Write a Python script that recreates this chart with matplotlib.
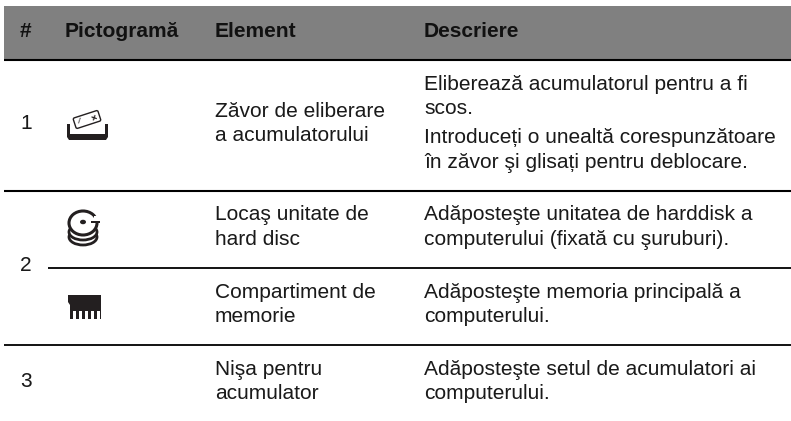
import matplotlib
matplotlib.use("Agg")
import matplotlib.pyplot as plt
from matplotlib.patches import Rectangle, Polygon, Circle, Ellipse, FancyBboxPatch
from matplotlib.transforms import Affine2D

W, H = 791, 421
headers = ["#", "Pictogramă", "Element", "Descriere"]
header_x = [20, 65, 215, 424]
numbers = ["1", "2", "3"]
number_y = [129, 271, 387]
elements = ["Zăvor de eliberare", "a acumulatorului", "Locaş unitate de", "hard disc",
            "Compartiment de", "memorie", "Nişa pentru", "acumulator"]
element_y = [117, 141, 220, 245, 298, 322, 375, 399]
descriptions = ["Eliberează acumulatorul pentru a fi", "scos.",
                "Introduceți o unealtă corespunzătoare", "în zăvor şi glisați pentru deblocare.",
                "Adăposteşte unitatea de harddisk a", "computerului (fixată cu şuruburi).",
                "Adăposteşte memoria principală a", "computerului.",
                "Adăposteşte setul de acumulatori ai", "computerului."]
desc_y = [90, 114, 143, 168, 220, 245, 298, 322, 375, 399]

plt.rcParams["font.family"] = ["Liberation Sans", "DejaVu Sans"]
plt.rcParams["text.hinting"] = "no_autohint"
plt.rcParams["text.hinting_factor"] = 8
fig = plt.figure(figsize=(W / 100, H / 100), dpi=100)
ax = fig.add_axes([0, 0, 1, 1])
ax.set_xlim(0, W)
ax.set_ylim(H, 0)
ax.axis("off")

INK = "#231f20"
TXT = "#1a1a1a"
FS = 15.1
ax.add_patch(Rectangle((4, 6), W - 4, 53, fc="#808080", ec="none"))
for x0, y, lw in [(4, 60, 1.5), (4, 191, 1.5), (48, 268, 1.3), (4, 345, 1.3)]:
    ax.plot([x0, W], [y, y], color="black", lw=lw, solid_capstyle="butt")

for s, x in zip(headers, header_x):
    ax.text(x, 37, s, fontsize=FS, fontweight="bold", color="#111111", va="baseline")
for s, y in zip(numbers, number_y):
    ax.text(20, y, s, fontsize=FS, color=TXT, va="baseline")
for s, y in zip(elements, element_y):
    ax.text(215, y, s, fontsize=FS, color=TXT, va="baseline")
for s, y in zip(descriptions, desc_y):
    ax.text(424, y, s, fontsize=FS, color=TXT, va="baseline")

# battery-release icon
ax.add_patch(Polygon([(67, 124), (70, 124), (70, 134), (105, 134), (105, 124), (108, 124),
                      (108, 137), (106, 140), (69, 140), (67, 137)],
                     closed=True, fc=INK, ec="none"))
bat = FancyBboxPatch((74, 114), 26, 11, boxstyle="round,pad=0,rounding_size=1.5",
                     fc="white", ec=INK, lw=1.0,
                     transform=Affine2D().rotate_deg_around(87, 119.5, -18) + ax.transData)
ax.add_patch(bat)
ax.text(78, 121.5, "I", fontsize=6, color=INK, ha="center", va="center", rotation=-18)
ax.text(93, 117.5, "+", fontsize=8, color=INK, ha="center", va="center", rotation=-18,
        fontweight="bold")

# hard disc icon
for cy in [237, 232]:
    ax.add_patch(Ellipse((83, cy), 28, 16, fc="white", ec=INK, lw=2.0))
ax.add_patch(Ellipse((83, 223), 28, 24, fc="white", ec=INK, lw=2.2))
ax.add_patch(Ellipse((83, 222), 6, 4.5, fc=INK, ec="none"))
ax.add_patch(Rectangle((91, 220.5), 9, 2.5, fc=INK, ec="none"))
ax.add_patch(Rectangle((94, 216), 6, 4.5, fc="white", ec="none"))

# memory icon
ax.add_patch(Polygon([(68, 295), (101, 295), (101, 319), (70, 319), (70, 305), (68, 302)],
                     closed=True, fc=INK, ec="none"))
for x in [73, 79, 85, 91, 97]:
    ax.add_patch(Rectangle((x, 311), 3, 8, fc="white", ec="none"))

fig.savefig("out.png", dpi=100, facecolor="white")
